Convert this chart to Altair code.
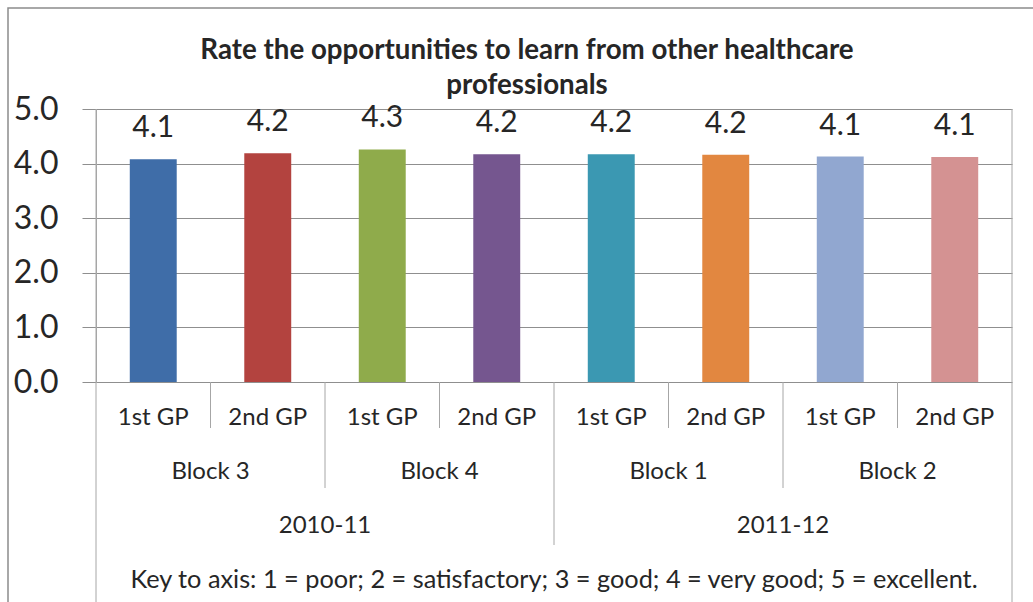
import altair as alt
import pandas as pd

title_lines = ["Rate the opportunities to learn from other healthcare", "professionals"]
gp_labels = ["1st GP", "2nd GP", "1st GP", "2nd GP", "1st GP", "2nd GP", "1st GP", "2nd GP"]
block_labels = ["Block 3", "Block 4", "Block 1", "Block 2"]
year_labels = ["2010-11", "2011-12"]
values = [4.08, 4.19, 4.26, 4.17, 4.17, 4.16, 4.13, 4.12]
colors = ["#3F6DA8", "#B3433F", "#8FAB4B", "#75568F", "#3B98B2", "#E28740", "#91A7D0", "#D49292"]
key_text = "Key to axis: 1 = poor; 2 = satisfactory; 3 = good; 4 = very good; 5 = excellent."

FONT = "Lato"
TXT = "#262626"
GRID = "#8F8F8F"
LINE = "#A6A6A6"

n = len(values)
bars = pd.DataFrame({
    "idx": list(range(n)),
    "x0": [i + 0.295 for i in range(n)],
    "x1": [i + 0.705 for i in range(n)],
    "xc": [i + 0.5 for i in range(n)],
    "value": values,
    "gp": gp_labels,
})
blocks = pd.DataFrame({"xc": [2 * j + 1 for j in range(len(block_labels))], "label": block_labels})
years = pd.DataFrame({"xc": [4 * k + 2 for k in range(len(year_labels))], "label": year_labels})

xs = alt.Scale(domain=[0, n], nice=False, zero=False)
ys = alt.Scale(domain=[0, 5], nice=False)

base = alt.Chart(bars)

bar = base.mark_bar().encode(
    x=alt.X("x0:Q", scale=xs, axis=None),
    x2="x1:Q",
    y=alt.Y("value:Q", scale=ys, axis=alt.Axis(
        values=[0, 1, 2, 3, 4, 5], format=".1f", title=None,
        grid=True, gridColor=GRID, gridWidth=1,
        domain=True, domainColor=LINE, domainWidth=1,
        ticks=True, tickSize=14, tickColor=GRID,
        labelFont=FONT, labelFontSize=32, labelColor=TXT, labelPadding=24,
    )),
    y2=alt.datum(0),
    color=alt.Color("idx:N", scale=alt.Scale(domain=list(range(n)), range=colors), legend=None),
)

vlabels = base.mark_text(font=FONT, fontSize=30, color=TXT, baseline="alphabetic", dy=-22).encode(
    x=alt.X("xc:Q", scale=xs),
    y=alt.Y("value:Q", scale=ys),
    text=alt.Text("value:Q", format=".1f"),
)

gp_text = base.mark_text(font=FONT, fontSize=24, color=TXT, baseline="middle").encode(
    x=alt.X("xc:Q", scale=xs),
    y=alt.value(309),
    text="gp:N",
)
block_text = alt.Chart(blocks).mark_text(font=FONT, fontSize=24, color=TXT, baseline="middle").encode(
    x=alt.X("xc:Q", scale=xs), y=alt.value(363), text="label:N",
)
year_text = alt.Chart(years).mark_text(font=FONT, fontSize=24, color=TXT, baseline="middle").encode(
    x=alt.X("xc:Q", scale=xs), y=alt.value(417), text="label:N",
)
key = alt.Chart(bars).transform_aggregate(c="count()").mark_text(
    font=FONT, fontSize=25.3, color=TXT, baseline="middle"
).encode(x=alt.datum(n / 2, scale=xs), y=alt.value(471), text=alt.value(key_text))

title = alt.Chart(bars).transform_aggregate(c="count()").mark_text(
    font=FONT, fontSize=27.7, fontWeight="bold", color=TXT, baseline="middle", lineHeight=35
).encode(x=alt.value(431), y=alt.value(-58), text=alt.value(title_lines))

div1 = pd.DataFrame({"p": [1, 3, 5, 7]})
div2 = pd.DataFrame({"p": [2, 6]})
div3 = pd.DataFrame({"p": [4]})
edges = pd.DataFrame({"p": [0, n]})

def rule(df, y0, y1):
    return alt.Chart(df).mark_rule(color=LINE, strokeWidth=1).encode(
        x=alt.X("p:Q", scale=xs), y=alt.value(y0), y2=alt.value(y1)
    )

rules = rule(div1, 273, 319) + rule(div2, 273, 379) + rule(div3, 273, 436) + rule(edges, 0, 520)

frame = alt.Chart(bars).transform_aggregate(c="count()").mark_rect(
    fill=None, stroke="#8C8C8C", strokeWidth=1.5
).encode(x=alt.value(-88), x2=alt.value(1100), y=alt.value(-101), y2=alt.value(700))

chart = alt.layer(frame, bar, rules, vlabels, gp_text, block_text, year_text, key, title).properties(
    width=916, height=273,
    padding={"left": 96, "top": 109, "right": 21, "bottom": 220},
    autosize=alt.AutoSizeParams(type="none"),
    background="white",
).configure_view(stroke=None)

chart.save("out.html", embed_options={"renderer": "svg", "actions": False})
